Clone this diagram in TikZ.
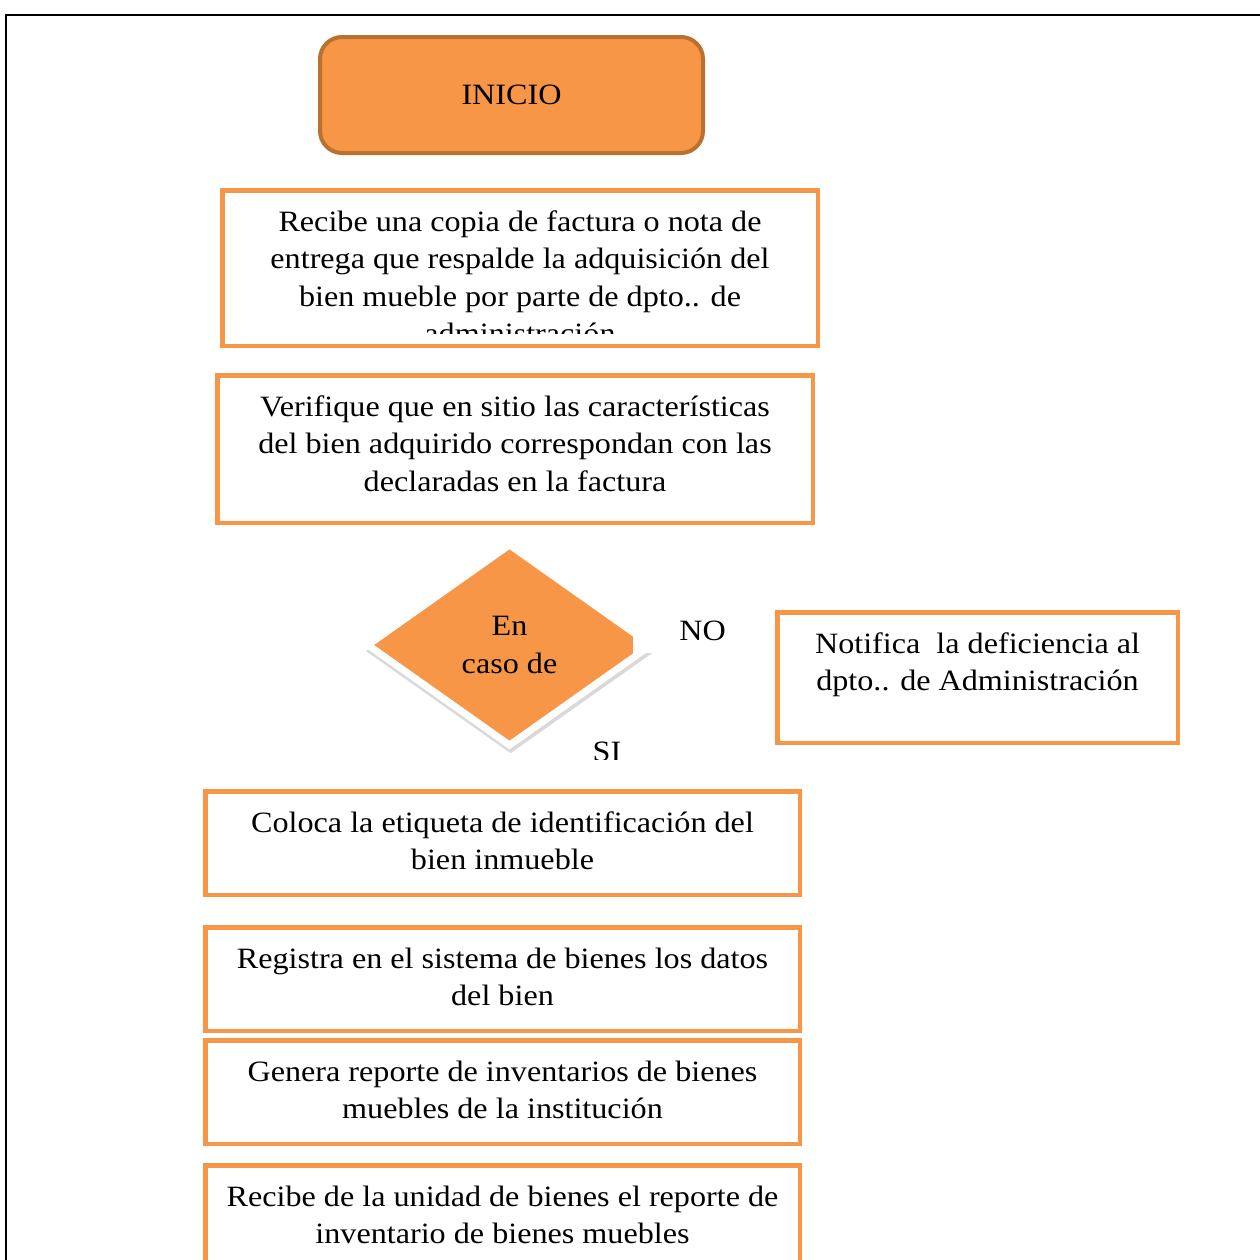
\documentclass[tikz,border=0pt]{standalone}
\usepackage{fontspec}
\setmainfont{Liberation Serif}[FakeStretch=1.09]
\usepackage{xcolor}
\usepackage{tikz}
\usetikzlibrary{positioning,shapes.geometric,shadows}

\definecolor{boxorange}{HTML}{F79646}
\definecolor{startedge}{HTML}{B8712F}
\newcommand{\flowfont}{\fontsize{29.5}{37.5}\selectfont}
\newcommand{\steptext}[3]{\begin{minipage}[t][#2][t]{#1}\centering\strut#3\end{minipage}}

\begin{document}
\begin{tikzpicture}[x=1pt, y=-1pt,
  stepbox/.style={rectangle, draw=boxorange, line width=4.5pt, fill=white, inner xsep=0pt, inner ysep=14.75pt, anchor=north, font=\flowfont},
  startbox/.style={rectangle, rounded corners=22pt, draw=startedge, line width=4pt, fill=boxorange, minimum width=383pt, minimum height=116pt, font=\flowfont},
  decision/.style={diamond, draw=white, line width=7pt, fill=boxorange, minimum width=286pt, minimum height=203pt, inner sep=0pt, align=center, font=\flowfont,
    drop shadow={shadow xshift=1pt, shadow yshift=-6pt, shadow scale=1.02, opacity=0.3}},
  answer/.style={rectangle, fill=white, inner sep=2pt, font=\flowfont},
  frame/.style={draw=black, line width=2.2pt}
]
\useasboundingbox (0,0) rectangle (1260,1259);
\clip (0,0) rectangle (1260,1259);
\draw[frame] (6,15) rectangle (1300,1300);

\node[startbox] (inicio) at (511.5,95) {INICIO};

\node[stepbox, minimum width=595.5pt, minimum height=155.5pt] (factura) at (520,188) {};
\begin{scope}
  \clip (factura.north west) rectangle ([yshift=15pt]factura.south east);
  \node[anchor=north, inner sep=0pt, font=\flowfont] (facturatext) at ([yshift=-17pt]factura.north)
    {\steptext{580pt}{150pt}{Recibe una copia de factura o nota de\\entrega que respalde la adquisición del\\bien mueble por parte de dpto.. de\\administración}};
\end{scope}

\node[stepbox, minimum width=595.5pt] (verifica) at (515,373)
  {\steptext{580pt}{118pt}{Verifique que en sitio las características\\del bien adquirido correspondan con las\\declaradas en la factura}};

\node[decision] (caso) at (509.5,645) {En\\caso de};
\node[answer, minimum width=139pt, minimum height=43.5pt, anchor=south west, inner sep=0pt] (no) at (633,653) {NO};
\begin{scope}
  \clip (560,700) rectangle (660,759);
  \node[answer] (si) at (607,751.75) {SI};
\end{scope}

\node[stepbox, minimum width=400.5pt] (notifica) at (977.5,610)
  {\steptext{390pt}{101pt}{Notifica~ la deficiencia al\\dpto.. de Administración}};

\node[stepbox, minimum width=594.5pt] (coloca) at (502.5,789)
  {\steptext{580pt}{74pt}{Coloca la etiqueta de identificación del\\bien inmueble}};
\node[stepbox, minimum width=594.5pt, below=28pt of coloca] (registra)
  {\steptext{580pt}{74pt}{Registra en el sistema de bienes los datos\\del bien}};
\node[stepbox, minimum width=594.5pt, below=5pt of registra] (genera)
  {\steptext{580pt}{74pt}{Genera reporte de inventarios de bienes\\muebles de la institución}};
\node[stepbox, minimum width=594.5pt, below=17pt of genera] (recibe)
  {\steptext{580pt}{74pt}{Recibe de la unidad de bienes el reporte de\\inventario de bienes muebles}};
\end{tikzpicture}
\end{document}
